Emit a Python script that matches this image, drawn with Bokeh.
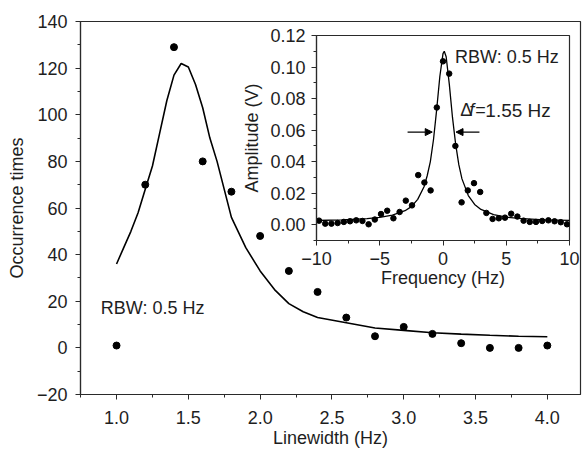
from bokeh.plotting import figure
from bokeh.models import Range1d, FixedTicker, Arrow, NormalHead, Label
from bokeh.layouts import column
from bokeh.embed import file_html
from bokeh.resources import INLINE

# ---- main chart data ----
linewidth = [1.0, 1.2, 1.4, 1.6, 1.8, 2.0, 2.2, 2.4, 2.6, 2.8, 3.0, 3.2, 3.4, 3.6, 3.8, 4.0]
occurrence = [1, 70, 129, 80, 67, 48, 33, 24, 13, 5, 9, 6, 2, 0, 0, 1]

fit_x = [1.0, 1.05, 1.1, 1.15, 1.2, 1.25, 1.3, 1.35, 1.4, 1.45, 1.5, 1.55, 1.6, 1.65,
         1.7, 1.75, 1.8, 1.9, 2.0, 2.1, 2.2, 2.3, 2.4, 2.6, 2.8, 3.0, 3.2, 3.4, 3.6, 3.8, 4.0]
fit_y = [36, 43, 50, 58, 68, 78, 92, 106, 117, 122, 120.5, 113, 103, 90,
         80, 68, 56, 43, 33, 25, 19, 15.5, 13, 10.8, 8.5, 7.5, 6.5, 5.9, 5.4, 5.0, 4.8]

main_x_ticks = [1.0, 1.5, 2.0, 2.5, 3.0, 3.5, 4.0]
main_x_minor = [0.75, 1.25, 1.75, 2.25, 2.75, 3.25, 3.75]
main_y_ticks = [-20, 0, 20, 40, 60, 80, 100, 120, 140]
main_y_minor = [-10, 10, 30, 50, 70, 90, 110, 130]
main_y_labels = ["\u221220", "0", "20", "40", "60", "80", "100", "120", "140"]

# ---- inset data ----
freq = [-9.8, -9.31, -8.82, -8.33, -7.84, -7.35, -6.86, -6.37, -5.88, -5.39, -4.9,
        -4.41, -3.92, -3.43, -2.94, -2.45, -1.96, -1.47, -0.98, -0.49, 0.0, 0.49,
        0.98, 1.47, 1.96, 2.45, 2.94, 3.43, 3.92, 4.41, 4.9, 5.39, 5.88, 6.37,
        6.86, 7.35, 7.84, 8.33, 8.82, 9.31, 9.8]
amplitude = [0.0025, 0.0006, 0.0006, 0.0010, 0.0017, 0.0021, 0.0027, 0.0023, 0.0002,
             0.0032, 0.0067, 0.0088, 0.0040, 0.0080, 0.0152, 0.0122, 0.0314, 0.0267,
             0.0217, 0.0743, 0.1036, 0.0958, 0.0499, 0.0141, 0.0217, 0.0263, 0.0207,
             0.0074, 0.0036, 0.0040, 0.0044, 0.0069, 0.0051, 0.0025, 0.0017, 0.0017,
             0.0023, 0.0027, 0.0021, 0.0015, 0.0002]

lor_x = [-10, -8, -6, -5, -4, -3, -2.5, -2, -1.5, -1.25, -1, -0.75, -0.5, -0.25, 0,
         0.1, 0.25, 0.5, 0.75, 1.0, 1.25, 1.5, 2.0, 2.5, 3, 4, 5, 6, 8, 10]
lor_y = [0.0026, 0.0030, 0.0038, 0.0046, 0.0060, 0.0088, 0.0114, 0.0160, 0.0240,
         0.0310, 0.0400, 0.0540, 0.0730, 0.0940, 0.1085, 0.1100, 0.1065, 0.0890,
         0.0680, 0.0510, 0.0380, 0.0290, 0.0184, 0.0128, 0.0096, 0.0063, 0.0047,
         0.0039, 0.0030, 0.0027]

inset_x_ticks = [-10, -5, 0, 5, 10]
inset_x_minor = [-7.5, -2.5, 2.5, 7.5]
inset_x_labels = ["\u221210", "\u22125", "0", "5", "10"]
inset_y_ticks = [0.0, 0.02, 0.04, 0.06, 0.08, 0.10, 0.12]
inset_y_minor = [-0.01, 0.01, 0.03, 0.05, 0.07, 0.09, 0.11]
inset_y_labels = ["0.00", "0.02", "0.04", "0.06", "0.08", "0.10", "0.12"]

FONT = "Liberation Sans"
FS = "18px"
TXT = "#1e1e1e"
LINE = "#2a2a2a"


def style_axes(fig, tick_out_major, tick_out_minor):
    for ax in fig.axis:
        ax.axis_line_color = LINE
        ax.axis_line_width = 1.2
        ax.major_tick_line_color = LINE
        ax.minor_tick_line_color = LINE
        ax.major_tick_in = 0
        ax.minor_tick_in = 0
        ax.major_tick_out = tick_out_major
        ax.minor_tick_out = tick_out_minor
        ax.major_label_text_font = FONT
        ax.major_label_text_font_size = FS
        ax.major_label_text_color = TXT
        ax.axis_label_text_font = FONT
        ax.axis_label_text_font_size = FS
        ax.axis_label_text_font_style = "normal"
        ax.axis_label_text_color = TXT


# ---------------- main figure ----------------
p = figure(width=582, height=450, x_range=Range1d(0.749, 4.231), y_range=Range1d(-20, 140),
           output_backend="svg", toolbar_location=None, frame_align=False,
           min_border_left=80, min_border_right=2, min_border_top=21, min_border_bottom=56)
p.grid.visible = False
p.outline_line_color = LINE
p.outline_line_width = 1.2
p.background_fill_color = "white"
p.border_fill_color = "white"

p.line(fit_x, fit_y, line_color="black", line_width=1.6)
p.scatter(linewidth, occurrence, size=7, color="black")

p.xaxis.ticker = FixedTicker(ticks=main_x_ticks, minor_ticks=main_x_minor)
p.yaxis.ticker = FixedTicker(ticks=main_y_ticks, minor_ticks=main_y_minor)
p.xaxis.major_label_overrides = {t: f"{t:.1f}" for t in main_x_ticks}
p.yaxis.major_label_overrides = dict(zip(main_y_ticks, main_y_labels))
p.xaxis.axis_label = "Linewidth (Hz)"
p.yaxis.axis_label = "Occurrence times"
style_axes(p, 5, 3)
p.xaxis.major_label_standoff = 11
p.xaxis.axis_label_standoff = 1
p.yaxis.major_label_standoff = 8
p.yaxis.axis_label_standoff = 7

p.add_layout(Label(x=0.89, y=17, text="RBW: 0.5 Hz", text_font=FONT, text_font_size=FS,
                   text_color=TXT, text_baseline="middle"))

# ---------------- inset figure ----------------
q = figure(width=346, height=268, x_range=Range1d(-10, 10), y_range=Range1d(-0.0101, 0.12),
           output_backend="svg", toolbar_location=None, frame_align=False,
           min_border_left=80, min_border_right=13, min_border_top=13, min_border_bottom=49,
           margin=(-428, 0, 0, 236))
q.grid.visible = False
q.outline_line_color = LINE
q.outline_line_width = 1.2
q.background_fill_color = "white"
q.border_fill_color = None

q.line(lor_x, lor_y, line_color="black", line_width=1.3)
q.scatter(freq, amplitude, size=5.5, color="black")

q.xaxis.ticker = FixedTicker(ticks=inset_x_ticks, minor_ticks=inset_x_minor)
q.yaxis.ticker = FixedTicker(ticks=inset_y_ticks, minor_ticks=inset_y_minor)
q.xaxis.major_label_overrides = dict(zip(inset_x_ticks, inset_x_labels))
q.yaxis.major_label_overrides = dict(zip(inset_y_ticks, inset_y_labels))
q.xaxis.axis_label = "Frequency (Hz)"
q.yaxis.axis_label = "Amplitude (V)"
style_axes(q, 5, 3)
q.xaxis.major_label_standoff = 6
q.xaxis.axis_label_standoff = 0
q.yaxis.major_label_standoff = 6
q.yaxis.axis_label_standoff = 5

q.add_layout(Label(x=0.95, y=0.1063, text="RBW: 0.5 Hz", text_font=FONT, text_font_size=FS,
                   text_color=TXT, text_baseline="middle"))
q.add_layout(Label(x=1.37, y=0.0726, text="\u0394", text_font=FONT, text_font_size=FS,
                   text_color=TXT, text_baseline="middle"))
q.add_layout(Label(x=1.37, y=0.0726, x_offset=9, text="f", text_font=FONT, text_font_size=FS,
                   text_font_style="italic", text_color=TXT, text_baseline="middle"))
q.add_layout(Label(x=1.37, y=0.0726, x_offset=15, text="=", text_font=FONT,
                   text_font_size=FS, text_color=TXT, text_baseline="middle"))
q.add_layout(Label(x=1.37, y=0.0726, x_offset=25, text="1.55 Hz", text_font=FONT,
                   text_font_size="19px", text_color=TXT, text_baseline="middle"))

q.add_layout(Arrow(x_start=-2.8, y_start=0.0587, x_end=-0.85, y_end=0.0587,
                   line_color="black", line_width=1.2,
                   end=NormalHead(size=7, fill_color="black", line_color="black")))
q.add_layout(Arrow(x_start=2.88, y_start=0.0587, x_end=1.03, y_end=0.0587,
                   line_color="black", line_width=1.2,
                   end=NormalHead(size=7, fill_color="black", line_color="black")))

layout = column(p, q)
open("out.html", "w").write(file_html(layout, INLINE))
